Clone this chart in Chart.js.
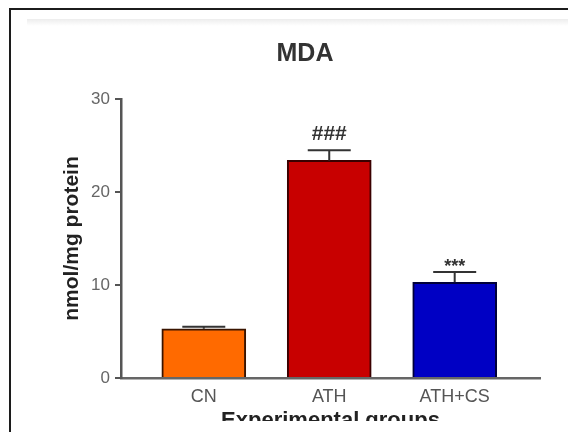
<!DOCTYPE html>
<html>
<head>
<meta charset="utf-8">
<script src="https://cdn.jsdelivr.net/npm/chart.js@4"></script>
<style>
  html, body { margin: 0; padding: 0; background: #fff; overflow: hidden; }
  #wrap { position: relative; width: 568px; height: 432px; overflow: hidden; }
  #frame { position: absolute; left: 9px; top: 8px; right: -10px; bottom: -10px;
           border-left: 2px solid #1c1c1c; border-top: 2px solid #1c1c1c; }
  #band { position: absolute; left: 27px; right: 0; top: 19px; height: 7px;
          background: linear-gradient(#ededed, #fff); }
  canvas { position: absolute; left: 0; top: 0; }
</style>
</head>
<body>
<div id="wrap">
  <div id="frame"></div>
  <div id="band"></div>
  <canvas id="chart" width="568" height="421"></canvas>
</div>
<script>
// MDA levels per group (mean, SEM)
const groups = ['CN', 'ATH', 'ATH+CS'];
const means = [5.3, 23.4, 10.3];
const sems = [0.2, 1.1, 1.1];
const marks = ['', '###', '***'];
const yTicks = [0, 10, 20, 30];

const fillColors = ['#ff6a00', '#c80000', '#0000c4'];
const edgeColors = ['#3a1400', '#3a0000', '#00003a'];
const FONT = "'Liberation Sans', Arial, sans-serif";

const errorBars = {
  id: 'errorBars',
  afterDatasetsDraw(chart) {
    const { ctx, scales: { x, y } } = chart;
    ctx.save();
    ctx.strokeStyle = '#333';
    ctx.lineWidth = 2;
    means.forEach((m, i) => {
      const px = x.getPixelForValue(i);
      const yMean = y.getPixelForValue(m);
      const yTop = y.getPixelForValue(m + sems[i]);
      ctx.beginPath();
      ctx.moveTo(px, yMean);
      ctx.lineTo(px, yTop);
      ctx.moveTo(px - 21.5, yTop);
      ctx.lineTo(px + 21.5, yTop);
      ctx.stroke();
      if (marks[i]) {
        ctx.fillStyle = '#333';
        ctx.textAlign = 'center';
        ctx.textBaseline = 'alphabetic';
        if (marks[i][0] === '#') {
          ctx.font = 'bold 21px ' + FONT;
          ctx.fillText(marks[i], px, yTop - 10);
        } else {
          ctx.font = 'bold 18px ' + FONT;
          ctx.fillText(marks[i], px, yTop);
        }
      }
    });
    ctx.restore();
  }
};

new Chart(document.getElementById('chart'), {
  type: 'bar',
  data: {
    datasets: [{
      data: means.map((v, i) => ({ x: i, y: v })),
      backgroundColor: fillColors,
      borderColor: edgeColors,
      borderWidth: 2,
      borderSkipped: 'bottom',
      barThickness: 84,
    }],
  },
  options: {
    responsive: false,
    animation: false,
    layout: { padding: { left: 70, right: 28, top: 0, bottom: 0 } },
    plugins: {
      legend: { display: false },
      tooltip: { enabled: false },
      title: {
        display: true,
        text: 'MDA',
        color: '#333',
        font: { family: FONT, size: 25, weight: 'bold' },
        padding: { top: 39, bottom: 30 },
      },
    },
    scales: {
      x: {
        type: 'linear',
        offset: false,
        min: -0.66,
        max: 2.68,
        afterBuildTicks: (s) => { s.ticks = groups.map((g, i) => ({ value: i })); },
        afterFit: (s) => { s.height = 43; },
        ticks: {
          callback: (v) => groups[v],
          color: '#555',
          font: { family: FONT, size: 18 },
          padding: 8,
          maxRotation: 0,
          autoSkip: false,
        },
        grid: { display: true, drawOnChartArea: false, drawTicks: false },
        border: { display: true, color: '#666', width: 2.5 },
        title: {
          display: true,
          text: 'Experimental groups',
          color: '#222',
          font: { family: FONT, size: 22, weight: 'bold' },
          padding: { top: 0, bottom: -13 },
        },
      },
      y: {
        min: 0,
        max: 30,
        afterBuildTicks: (s) => { s.ticks = yTicks.map((v) => ({ value: v })); },
        afterFit: (s) => { s.width = 51; },
        ticks: {
          color: '#666',
          font: { family: FONT, size: 17 },
          padding: 5,
        },
        grid: { display: true, drawOnChartArea: false, drawTicks: true, tickLength: 6, color: '#555', lineWidth: 2 },
        border: { display: true, color: '#555', width: 2.5 },
        title: {
          display: true,
          text: 'nmol/mg protein',
          color: '#222',
          font: { family: FONT, size: 21, weight: 'bold' },
          padding: { top: -10, bottom: 0 },
        },
      },
    },
  },
  plugins: [errorBars],
});
</script>
</body>
</html>
